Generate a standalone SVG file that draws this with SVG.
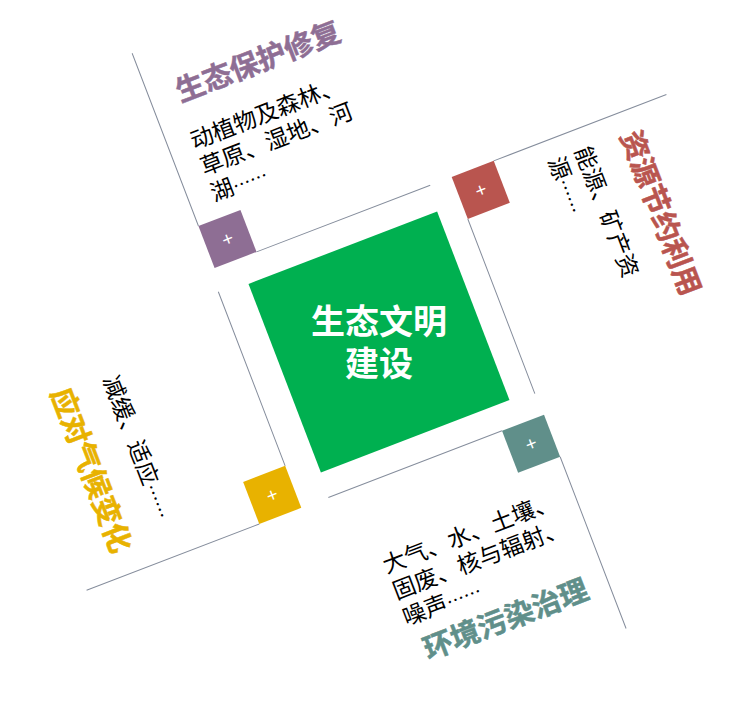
<svg xmlns="http://www.w3.org/2000/svg" width="754" height="716" viewBox="0 0 754 716">
<style>
.ln{stroke:#858d9c;stroke-width:1;fill:none}
.t{font-family:"Noto Sans CJK SC","Noto Sans CJK JP",sans-serif;font-weight:700;font-size:29px;stroke-width:0.5}
.b{font-family:"Noto Sans CJK SC","Noto Sans CJK JP",sans-serif;font-size:23px;fill:#000}
.e{font-size:18px}
.p{font-family:"Liberation Sans",sans-serif;font-size:19px;fill:#fff;text-anchor:middle}
.c{font-family:"Noto Sans CJK SC","Noto Sans CJK JP",sans-serif;font-weight:700;font-size:34px;fill:#fff;text-anchor:middle}
</style>
<rect width="754" height="716" fill="#fff"/>
<g transform="rotate(-21 379 342)">
 <g id="connectors">
  <path class="ln" d="M252 -16V169 M297 214H483 M551 214H736 M506 259V446 M507 514V698 M276 469H462 M247 237.5V424 M17 469H202"/>
 </g>
 <g id="center"><rect x="278" y="241" width="202" height="202" fill="#00b050"/></g>
 <g id="eco">
  <rect x="252" y="169" width="45" height="45" fill="#8e6e94"/>
  <text class="p" x="274.5" y="198">+</text>
  <text class="t" x="279.5" y="47" fill="#8e6e94" stroke="#8e6e94">生态保护修复</text>
  <text class="b"><tspan x="275.5" y="96">动植物及森林、</tspan><tspan x="275.5" y="124">草原、湿地、河</tspan><tspan x="275.5" y="152">湖<tspan class="e">……</tspan></tspan></text>
 </g>
 <g id="resource">
  <rect x="506" y="214" width="45" height="45" fill="#b9554f"/>
  <text class="p" x="528.5" y="243">+</text>
  <text class="t" transform="translate(678 235.5) rotate(90)" fill="#b9554f" stroke="#b9554f">资源节约利用</text>
  <text class="b" transform="translate(630 233) rotate(90)"><tspan x="0" y="0">能源、矿产资</tspan><tspan x="0" y="28.5">源<tspan class="e">……</tspan></tspan></text>
 </g>
 <g id="pollution">
  <rect x="462" y="469" width="45" height="45" fill="#608f8a"/>
  <text class="p" x="484.5" y="498">+</text>
  <text class="b"><tspan x="303" y="561">大气、水、土壤、</tspan><tspan x="303" y="589">固废、核与辐射、</tspan><tspan x="303" y="617">噪声<tspan class="e">……</tspan></tspan></text>
  <text class="t" x="311" y="656.5" fill="#608f8a" stroke="#608f8a">环境污染治理</text>
 </g>
 <g id="climate">
  <rect x="202" y="424" width="45" height="45" fill="#e8b200"/>
  <text class="p" x="224.5" y="453">+</text>
  <text class="b" transform="translate(107.5 278) rotate(90)">减缓、适应<tspan class="e">……</tspan></text>
  <text class="t" transform="translate(54 271.5) rotate(90)" fill="#e8b200" stroke="#e8b200">应对气候变化</text>
 </g>
</g>
<g id="center-label">
 <text class="c"><tspan x="379" y="333.5">生态文明</tspan><tspan x="379" y="376">建设</tspan></text>
</g>
</svg>
